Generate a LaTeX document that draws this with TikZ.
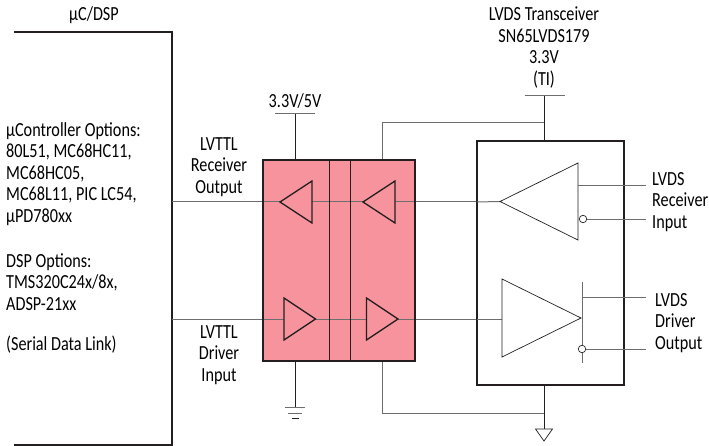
\documentclass[tikz,border=0pt]{standalone}
\usepackage{fontspec}
\setmainfont[FakeStretch=0.81]{Carlito}
\definecolor{pinkfill}{HTML}{F7939C}
\definecolor{ink}{HTML}{231F20}
\definecolor{wire}{HTML}{6D6E70}
\tikzset{
  heavy/.style={draw=ink,line width=1.5pt},
  wireline/.style={draw=wire,line width=1pt},
  fineline/.style={draw=ink,line width=0.7pt},
  tri/.style={draw=ink,line width=1.3pt,line join=miter,fill=pinkfill},
  chiptri/.style={draw=ink,line width=0.7pt,fill=white},
  bubble/.style={circle,draw=ink,line width=0.7pt,fill=white,inner sep=0pt,minimum size=7.5pt},
  lbl/.style={font=\fontsize{20}{21.5}\selectfont,inner sep=0pt,align=center},
  lbll/.style={lbl,align=left,anchor=west},
  pt/.style={inner sep=0pt,minimum size=0pt}
}
\begin{document}
\begin{tikzpicture}[x=1pt,y=-1pt]
\useasboundingbox (0,0) rectangle (709,446);
\fill[white] (0,0) rectangle (709,446);
% uC box
\coordinate (uctl) at (14,32);
\coordinate (uctr) at (172,32);
\coordinate (ucbr) at (172,445);
\coordinate (ucbl) at (14,445);
\draw[heavy,line cap=butt] (uctl) -- (uctr) -- (ucbr) -- (ucbl);
% pink block
\node[pt] (pinktl) at (263,160) {};
\node[pt] (pinkbr) at (415,361) {};
\coordinate (ppu) at (295,160);
\coordinate (ppd) at (295,361);
\coordinate (xu) at (382,160);
\coordinate (xd) at (382,361);
% supply
\coordinate (vbarL) at (275,114);
\coordinate (vbarR) at (315,114);
\coordinate (vbarM) at (295,114);
\coordinate (chipTop) at (544.5,141);
\coordinate (chipBot) at (544.5,385);
\coordinate (j1) at (544.5,123);
\coordinate (j2) at (544.5,413);
% wires under
\fill[pinkfill] (263,160) rectangle (415,361);
\draw[wireline] (172,202) -- (477,202);
\draw[wireline] (172,319) -- (477,319);
\draw[wireline] (vbarL) -- (vbarR);
\draw[fineline] (vbarM) -- (ppu);
\draw[wireline] (xu) |- (j1);
\draw[wireline] (xd) |- (j2);
\draw[fineline] (chipTop) -- (544.5,96);
\draw[wireline] (524.5,96) -- (565,96);
\draw[fineline] (chipBot) -- (544.5,429);
\draw[fineline,fill=white] (535.5,429) -- (552.5,429) -- (544,441) -- cycle;
% ground
\draw[fineline] (ppd) -- (295,407);
\draw[wireline] (285,407) -- (305,407);
\draw[wireline] (288,413) -- (302,413);
\draw[fineline] (292,418.5) -- (299,418.5);
% pink outline
\draw[draw=ink,line width=1.5pt] (263,160) rectangle (415,361);
\draw[fineline,line width=.9pt] (329.5,160) -- (329.5,361);
\draw[fineline,line width=.9pt] (350.5,160) -- (350.5,361);
% pink buffers
\draw[tri] (280,202) -- (312,181) -- (312,223) -- cycle;
\draw[tri] (363,202) -- (395,181) -- (395,223) -- cycle;
\draw[tri] (284,298) -- (315.5,319) -- (284,340) -- cycle;
\draw[tri] (366.5,298) -- (398,319) -- (366.5,340) -- cycle;
% chip
\node[pt] (chiptl) at (477,141) {};
\node[pt] (chipbr) at (624,385) {};
\draw[heavy,fill=white] (477,141) rectangle (624,385);
\draw[wireline] (477,202) -- (500,201.5);
\draw[wireline] (477,319) -- (502,319);
\draw[chiptri] (500,201.5) -- (578,163) -- (578,240) -- cycle;
\draw[chiptri] (502,279) -- (581,318) -- (502,357) -- cycle;
\draw[wireline] (582,282) -- (582,363);
\draw[fineline,draw=wire] (578,185) -- (646,185);
\draw[fineline,draw=wire] (582,297) -- (646,297);
\node[bubble] (bubR) at (583,219) {};
\node[bubble] (bubD) at (582,349) {};
\coordinate (outR) at (646,219);
\coordinate (outD) at (646,349);
\draw[fineline,draw=wire] (bubR) -- (outR);
\draw[fineline,draw=wire] (bubD) -- (outD);
% labels
\node[lbl] (t1) at (94,15) {µC/DSP};
\node[lbl] (t2) at (295,101) {3.3V/5V};
\node[lbl] (t3) at (544,47.5) {LVDS Transceiver\\SN65LVDS179\\3.3V\\(TI)};
\node[lbl] (t4) at (219,167) {LVTTL\\Receiver\\Output};
\node[lbl] (t5) at (219,355) {LVTTL\\Driver\\Input};
\node[lbl,anchor=west,align=left] (t6) at (652,202) {LVDS\\Receiver\\Input};
\node[lbl,anchor=west,align=left] (t7) at (655,323) {LVDS\\Driver\\Output};
\node[lbll] (t8) at (6,174) {µController Options:\\80L51, MC68HC11,\\MC68HC05,\\MC68L11, PIC LC54,\\µPD780xx};
\node[lbll] (t9) at (6,282) {DSP Options:\\TMS320C24x/8x,\\ADSP-21xx};
\node[lbll] (t10) at (6,345) {(Serial Data Link)};
\end{tikzpicture}
\end{document}
